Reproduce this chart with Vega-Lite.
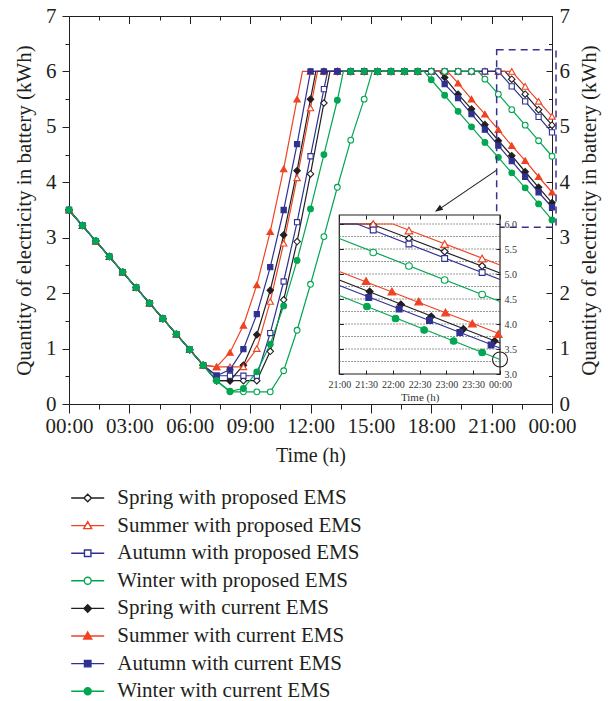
{
"$schema": "https://vega.github.io/schema/vega-lite/v6.json",
"width": 483, "height": 388,
"autosize": "none",
"padding": {"left": 69, "top": 16, "right": 58, "bottom": 297},
"background": "white",
"config": {
  "view": {"stroke": null},
  "axis": {"labelFont": "Liberation Serif", "titleFont": "Liberation Serif", "labelColor": "#231f20", "titleColor": "#231f20", "tickColor": "#231f20", "domainColor": "#231f20", "domainWidth": 1, "tickWidth": 1, "grid": false, "labelFlush": false, "labelOverlap": false, "titleFontWeight": "normal"}
},
"datasets": {
"main": [
{"s":"Spring with proposed EMS","m":0,"v":3.5},{"s":"Spring with proposed EMS","m":40,"v":3.22},{"s":"Spring with proposed EMS","m":80,"v":2.94},{"s":"Spring with proposed EMS","m":120,"v":2.66},{"s":"Spring with proposed EMS","m":160,"v":2.38},{"s":"Spring with proposed EMS","m":200,"v":2.1},{"s":"Spring with proposed EMS","m":240,"v":1.82},{"s":"Spring with proposed EMS","m":280,"v":1.54},{"s":"Spring with proposed EMS","m":320,"v":1.26},{"s":"Spring with proposed EMS","m":360,"v":0.98},{"s":"Spring with proposed EMS","m":400,"v":0.7},
{"s":"Spring with proposed EMS","m":440,"v":0.42},{"s":"Spring with proposed EMS","m":480,"v":0.42},{"s":"Spring with proposed EMS","m":520,"v":0.42},{"s":"Spring with proposed EMS","m":560,"v":0.42},{"s":"Spring with proposed EMS","m":600,"v":0.95},{"s":"Spring with proposed EMS","m":640,"v":1.88},{"s":"Spring with proposed EMS","m":680,"v":2.93},{"s":"Spring with proposed EMS","m":720,"v":4.15},{"s":"Spring with proposed EMS","m":760,"v":5.43},{"s":"Spring with proposed EMS","m":778,"v":6},
{"s":"Spring with proposed EMS","m":800,"v":6},{"s":"Spring with proposed EMS","m":840,"v":6},{"s":"Spring with proposed EMS","m":880,"v":6},{"s":"Spring with proposed EMS","m":920,"v":6},{"s":"Spring with proposed EMS","m":960,"v":6},{"s":"Spring with proposed EMS","m":1000,"v":6},{"s":"Spring with proposed EMS","m":1040,"v":6},{"s":"Spring with proposed EMS","m":1080,"v":6},{"s":"Spring with proposed EMS","m":1120,"v":6},{"s":"Spring with proposed EMS","m":1160,"v":6},{"s":"Spring with proposed EMS","m":1200,"v":6},{"s":"Spring with proposed EMS","m":1240,"v":6},{"s":"Spring with proposed EMS","m":1280,"v":6},{"s":"Spring with proposed EMS","m":1300,"v":6},
{"s":"Spring with proposed EMS","m":1320,"v":5.86},{"s":"Spring with proposed EMS","m":1360,"v":5.59},{"s":"Spring with proposed EMS","m":1400,"v":5.31},{"s":"Spring with proposed EMS","m":1440,"v":5.03},

{"s":"Summer with proposed EMS","m":0,"v":3.5},{"s":"Summer with proposed EMS","m":40,"v":3.22},{"s":"Summer with proposed EMS","m":80,"v":2.94},{"s":"Summer with proposed EMS","m":120,"v":2.66},{"s":"Summer with proposed EMS","m":160,"v":2.38},{"s":"Summer with proposed EMS","m":200,"v":2.1},{"s":"Summer with proposed EMS","m":240,"v":1.82},{"s":"Summer with proposed EMS","m":280,"v":1.54},{"s":"Summer with proposed EMS","m":320,"v":1.26},{"s":"Summer with proposed EMS","m":360,"v":0.98},{"s":"Summer with proposed EMS","m":400,"v":0.7},
{"s":"Summer with proposed EMS","m":440,"v":0.67},{"s":"Summer with proposed EMS","m":480,"v":0.67},{"s":"Summer with proposed EMS","m":520,"v":0.67},{"s":"Summer with proposed EMS","m":560,"v":1.0},{"s":"Summer with proposed EMS","m":600,"v":1.85},{"s":"Summer with proposed EMS","m":640,"v":2.9},{"s":"Summer with proposed EMS","m":680,"v":4.08},{"s":"Summer with proposed EMS","m":720,"v":5.34},{"s":"Summer with proposed EMS","m":741,"v":6},
{"s":"Summer with proposed EMS","m":760,"v":6},{"s":"Summer with proposed EMS","m":800,"v":6},{"s":"Summer with proposed EMS","m":840,"v":6},{"s":"Summer with proposed EMS","m":880,"v":6},{"s":"Summer with proposed EMS","m":920,"v":6},{"s":"Summer with proposed EMS","m":960,"v":6},{"s":"Summer with proposed EMS","m":1000,"v":6},{"s":"Summer with proposed EMS","m":1040,"v":6},{"s":"Summer with proposed EMS","m":1080,"v":6},{"s":"Summer with proposed EMS","m":1120,"v":6},{"s":"Summer with proposed EMS","m":1160,"v":6},{"s":"Summer with proposed EMS","m":1200,"v":6},{"s":"Summer with proposed EMS","m":1240,"v":6},{"s":"Summer with proposed EMS","m":1280,"v":6},{"s":"Summer with proposed EMS","m":1320,"v":6},
{"s":"Summer with proposed EMS","m":1360,"v":5.73},{"s":"Summer with proposed EMS","m":1400,"v":5.46},{"s":"Summer with proposed EMS","m":1440,"v":5.19},

{"s":"Autumn with proposed EMS","m":0,"v":3.5},{"s":"Autumn with proposed EMS","m":40,"v":3.22},{"s":"Autumn with proposed EMS","m":80,"v":2.94},{"s":"Autumn with proposed EMS","m":120,"v":2.66},{"s":"Autumn with proposed EMS","m":160,"v":2.38},{"s":"Autumn with proposed EMS","m":200,"v":2.1},{"s":"Autumn with proposed EMS","m":240,"v":1.82},{"s":"Autumn with proposed EMS","m":280,"v":1.54},{"s":"Autumn with proposed EMS","m":320,"v":1.26},{"s":"Autumn with proposed EMS","m":360,"v":0.98},{"s":"Autumn with proposed EMS","m":400,"v":0.7},
{"s":"Autumn with proposed EMS","m":440,"v":0.51},{"s":"Autumn with proposed EMS","m":480,"v":0.51},{"s":"Autumn with proposed EMS","m":520,"v":0.51},{"s":"Autumn with proposed EMS","m":560,"v":0.51},{"s":"Autumn with proposed EMS","m":600,"v":1.28},{"s":"Autumn with proposed EMS","m":640,"v":2.21},{"s":"Autumn with proposed EMS","m":680,"v":3.28},{"s":"Autumn with proposed EMS","m":720,"v":4.47},{"s":"Autumn with proposed EMS","m":760,"v":5.68},{"s":"Autumn with proposed EMS","m":771,"v":6},
{"s":"Autumn with proposed EMS","m":800,"v":6},{"s":"Autumn with proposed EMS","m":840,"v":6},{"s":"Autumn with proposed EMS","m":880,"v":6},{"s":"Autumn with proposed EMS","m":920,"v":6},{"s":"Autumn with proposed EMS","m":960,"v":6},{"s":"Autumn with proposed EMS","m":1000,"v":6},{"s":"Autumn with proposed EMS","m":1040,"v":6},{"s":"Autumn with proposed EMS","m":1080,"v":6},{"s":"Autumn with proposed EMS","m":1120,"v":6},{"s":"Autumn with proposed EMS","m":1160,"v":6},{"s":"Autumn with proposed EMS","m":1200,"v":6},{"s":"Autumn with proposed EMS","m":1240,"v":6},{"s":"Autumn with proposed EMS","m":1280,"v":6},
{"s":"Autumn with proposed EMS","m":1320,"v":5.73},{"s":"Autumn with proposed EMS","m":1360,"v":5.46},{"s":"Autumn with proposed EMS","m":1400,"v":5.18},{"s":"Autumn with proposed EMS","m":1440,"v":4.9},

{"s":"Winter with proposed EMS","m":0,"v":3.5},{"s":"Winter with proposed EMS","m":40,"v":3.22},{"s":"Winter with proposed EMS","m":80,"v":2.94},{"s":"Winter with proposed EMS","m":120,"v":2.66},{"s":"Winter with proposed EMS","m":160,"v":2.38},{"s":"Winter with proposed EMS","m":200,"v":2.1},{"s":"Winter with proposed EMS","m":240,"v":1.82},{"s":"Winter with proposed EMS","m":280,"v":1.54},{"s":"Winter with proposed EMS","m":320,"v":1.26},{"s":"Winter with proposed EMS","m":360,"v":0.98},{"s":"Winter with proposed EMS","m":400,"v":0.7},
{"s":"Winter with proposed EMS","m":440,"v":0.42},{"s":"Winter with proposed EMS","m":480,"v":0.22},{"s":"Winter with proposed EMS","m":520,"v":0.22},{"s":"Winter with proposed EMS","m":560,"v":0.22},{"s":"Winter with proposed EMS","m":600,"v":0.22},{"s":"Winter with proposed EMS","m":640,"v":0.6},{"s":"Winter with proposed EMS","m":680,"v":1.33},{"s":"Winter with proposed EMS","m":720,"v":2.16},{"s":"Winter with proposed EMS","m":760,"v":3.02},{"s":"Winter with proposed EMS","m":800,"v":3.91},{"s":"Winter with proposed EMS","m":840,"v":4.76},{"s":"Winter with proposed EMS","m":880,"v":5.5},{"s":"Winter with proposed EMS","m":904,"v":6},
{"s":"Winter with proposed EMS","m":920,"v":6},{"s":"Winter with proposed EMS","m":960,"v":6},{"s":"Winter with proposed EMS","m":1000,"v":6},{"s":"Winter with proposed EMS","m":1040,"v":6},{"s":"Winter with proposed EMS","m":1080,"v":6},{"s":"Winter with proposed EMS","m":1120,"v":6},{"s":"Winter with proposed EMS","m":1160,"v":6},{"s":"Winter with proposed EMS","m":1200,"v":6},{"s":"Winter with proposed EMS","m":1220,"v":6},
{"s":"Winter with proposed EMS","m":1240,"v":5.86},{"s":"Winter with proposed EMS","m":1280,"v":5.59},{"s":"Winter with proposed EMS","m":1320,"v":5.31},{"s":"Winter with proposed EMS","m":1360,"v":5.03},{"s":"Winter with proposed EMS","m":1400,"v":4.75},{"s":"Winter with proposed EMS","m":1440,"v":4.47},

{"s":"Spring with current EMS","m":0,"v":3.5},{"s":"Spring with current EMS","m":40,"v":3.22},{"s":"Spring with current EMS","m":80,"v":2.94},{"s":"Spring with current EMS","m":120,"v":2.66},{"s":"Spring with current EMS","m":160,"v":2.38},{"s":"Spring with current EMS","m":200,"v":2.1},{"s":"Spring with current EMS","m":240,"v":1.82},{"s":"Spring with current EMS","m":280,"v":1.54},{"s":"Spring with current EMS","m":320,"v":1.26},{"s":"Spring with current EMS","m":360,"v":0.98},{"s":"Spring with current EMS","m":400,"v":0.7},
{"s":"Spring with current EMS","m":440,"v":0.42},{"s":"Spring with current EMS","m":480,"v":0.42},{"s":"Spring with current EMS","m":520,"v":0.7},{"s":"Spring with current EMS","m":560,"v":1.25},{"s":"Spring with current EMS","m":600,"v":2.05},{"s":"Spring with current EMS","m":640,"v":3.05},{"s":"Spring with current EMS","m":680,"v":4.21},{"s":"Spring with current EMS","m":720,"v":5.5},{"s":"Spring with current EMS","m":736,"v":6},
{"s":"Spring with current EMS","m":760,"v":6},{"s":"Spring with current EMS","m":800,"v":6},{"s":"Spring with current EMS","m":840,"v":6},{"s":"Spring with current EMS","m":880,"v":6},{"s":"Spring with current EMS","m":920,"v":6},{"s":"Spring with current EMS","m":960,"v":6},{"s":"Spring with current EMS","m":1000,"v":6},{"s":"Spring with current EMS","m":1040,"v":6},{"s":"Spring with current EMS","m":1080,"v":6},{"s":"Spring with current EMS","m":1104,"v":6},
{"s":"Spring with current EMS","m":1120,"v":5.89},{"s":"Spring with current EMS","m":1160,"v":5.59},{"s":"Spring with current EMS","m":1200,"v":5.32},{"s":"Spring with current EMS","m":1240,"v":5.04},{"s":"Spring with current EMS","m":1280,"v":4.75},{"s":"Spring with current EMS","m":1320,"v":4.48},{"s":"Spring with current EMS","m":1360,"v":4.19},{"s":"Spring with current EMS","m":1400,"v":3.91},{"s":"Spring with current EMS","m":1440,"v":3.63},

{"s":"Summer with current EMS","m":0,"v":3.5},{"s":"Summer with current EMS","m":40,"v":3.22},{"s":"Summer with current EMS","m":80,"v":2.94},{"s":"Summer with current EMS","m":120,"v":2.66},{"s":"Summer with current EMS","m":160,"v":2.38},{"s":"Summer with current EMS","m":200,"v":2.1},{"s":"Summer with current EMS","m":240,"v":1.82},{"s":"Summer with current EMS","m":280,"v":1.54},{"s":"Summer with current EMS","m":320,"v":1.26},{"s":"Summer with current EMS","m":360,"v":0.98},{"s":"Summer with current EMS","m":400,"v":0.7},
{"s":"Summer with current EMS","m":440,"v":0.67},{"s":"Summer with current EMS","m":480,"v":0.93},{"s":"Summer with current EMS","m":520,"v":1.42},{"s":"Summer with current EMS","m":560,"v":2.15},{"s":"Summer with current EMS","m":600,"v":3.11},{"s":"Summer with current EMS","m":640,"v":4.24},{"s":"Summer with current EMS","m":680,"v":5.5},{"s":"Summer with current EMS","m":696,"v":6},
{"s":"Summer with current EMS","m":720,"v":6},{"s":"Summer with current EMS","m":760,"v":6},{"s":"Summer with current EMS","m":800,"v":6},{"s":"Summer with current EMS","m":840,"v":6},{"s":"Summer with current EMS","m":880,"v":6},{"s":"Summer with current EMS","m":920,"v":6},{"s":"Summer with current EMS","m":960,"v":6},{"s":"Summer with current EMS","m":1000,"v":6},{"s":"Summer with current EMS","m":1040,"v":6},{"s":"Summer with current EMS","m":1080,"v":6},{"s":"Summer with current EMS","m":1120,"v":6},{"s":"Summer with current EMS","m":1128,"v":6},
{"s":"Summer with current EMS","m":1160,"v":5.79},{"s":"Summer with current EMS","m":1200,"v":5.5},{"s":"Summer with current EMS","m":1240,"v":5.23},{"s":"Summer with current EMS","m":1280,"v":4.95},{"s":"Summer with current EMS","m":1320,"v":4.66},{"s":"Summer with current EMS","m":1360,"v":4.39},{"s":"Summer with current EMS","m":1400,"v":4.1},{"s":"Summer with current EMS","m":1440,"v":3.82},

{"s":"Autumn with current EMS","m":0,"v":3.5},{"s":"Autumn with current EMS","m":40,"v":3.22},{"s":"Autumn with current EMS","m":80,"v":2.94},{"s":"Autumn with current EMS","m":120,"v":2.66},{"s":"Autumn with current EMS","m":160,"v":2.38},{"s":"Autumn with current EMS","m":200,"v":2.1},{"s":"Autumn with current EMS","m":240,"v":1.82},{"s":"Autumn with current EMS","m":280,"v":1.54},{"s":"Autumn with current EMS","m":320,"v":1.26},{"s":"Autumn with current EMS","m":360,"v":0.98},{"s":"Autumn with current EMS","m":400,"v":0.7},
{"s":"Autumn with current EMS","m":440,"v":0.51},{"s":"Autumn with current EMS","m":480,"v":0.62},{"s":"Autumn with current EMS","m":520,"v":0.99},{"s":"Autumn with current EMS","m":560,"v":1.62},{"s":"Autumn with current EMS","m":600,"v":2.47},{"s":"Autumn with current EMS","m":640,"v":3.5},{"s":"Autumn with current EMS","m":680,"v":4.69},{"s":"Autumn with current EMS","m":720,"v":6},
{"s":"Autumn with current EMS","m":760,"v":6},{"s":"Autumn with current EMS","m":800,"v":6},{"s":"Autumn with current EMS","m":840,"v":6},{"s":"Autumn with current EMS","m":880,"v":6},{"s":"Autumn with current EMS","m":920,"v":6},{"s":"Autumn with current EMS","m":960,"v":6},{"s":"Autumn with current EMS","m":1000,"v":6},{"s":"Autumn with current EMS","m":1040,"v":6},{"s":"Autumn with current EMS","m":1080,"v":6},{"s":"Autumn with current EMS","m":1088,"v":6},
{"s":"Autumn with current EMS","m":1120,"v":5.77},{"s":"Autumn with current EMS","m":1160,"v":5.52},{"s":"Autumn with current EMS","m":1200,"v":5.23},{"s":"Autumn with current EMS","m":1240,"v":4.95},{"s":"Autumn with current EMS","m":1280,"v":4.66},{"s":"Autumn with current EMS","m":1320,"v":4.38},{"s":"Autumn with current EMS","m":1360,"v":4.1},{"s":"Autumn with current EMS","m":1400,"v":3.82},{"s":"Autumn with current EMS","m":1440,"v":3.55},

{"s":"Winter with current EMS","m":0,"v":3.5},{"s":"Winter with current EMS","m":40,"v":3.22},{"s":"Winter with current EMS","m":80,"v":2.94},{"s":"Winter with current EMS","m":120,"v":2.66},{"s":"Winter with current EMS","m":160,"v":2.38},{"s":"Winter with current EMS","m":200,"v":2.1},{"s":"Winter with current EMS","m":240,"v":1.82},{"s":"Winter with current EMS","m":280,"v":1.54},{"s":"Winter with current EMS","m":320,"v":1.26},{"s":"Winter with current EMS","m":360,"v":0.98},{"s":"Winter with current EMS","m":400,"v":0.7},
{"s":"Winter with current EMS","m":440,"v":0.42},{"s":"Winter with current EMS","m":480,"v":0.23},{"s":"Winter with current EMS","m":520,"v":0.28},{"s":"Winter with current EMS","m":560,"v":0.58},{"s":"Winter with current EMS","m":600,"v":1.08},{"s":"Winter with current EMS","m":640,"v":1.77},{"s":"Winter with current EMS","m":680,"v":2.59},{"s":"Winter with current EMS","m":720,"v":3.52},{"s":"Winter with current EMS","m":760,"v":4.5},{"s":"Winter with current EMS","m":800,"v":5.48},{"s":"Winter with current EMS","m":818,"v":6},
{"s":"Winter with current EMS","m":840,"v":6},{"s":"Winter with current EMS","m":880,"v":6},{"s":"Winter with current EMS","m":920,"v":6},{"s":"Winter with current EMS","m":960,"v":6},{"s":"Winter with current EMS","m":1000,"v":6},{"s":"Winter with current EMS","m":1040,"v":6},{"s":"Winter with current EMS","m":1058,"v":6},
{"s":"Winter with current EMS","m":1080,"v":5.85},{"s":"Winter with current EMS","m":1120,"v":5.57},{"s":"Winter with current EMS","m":1160,"v":5.28},{"s":"Winter with current EMS","m":1200,"v":5.0},{"s":"Winter with current EMS","m":1240,"v":4.72},{"s":"Winter with current EMS","m":1280,"v":4.45},{"s":"Winter with current EMS","m":1320,"v":4.17},{"s":"Winter with current EMS","m":1360,"v":3.9},{"s":"Winter with current EMS","m":1400,"v":3.61},{"s":"Winter with current EMS","m":1440,"v":3.32}
],
"inset": [
{"s":"Spring with proposed EMS","m":1260,"v":6},{"s":"Spring with proposed EMS","m":1296,"v":6},{"s":"Spring with proposed EMS","m":1440,"v":5.02},
{"s":"Summer with proposed EMS","m":1260,"v":6},{"s":"Summer with proposed EMS","m":1320,"v":6},{"s":"Summer with proposed EMS","m":1440,"v":5.18},
{"s":"Autumn with proposed EMS","m":1260,"v":6},{"s":"Autumn with proposed EMS","m":1280,"v":6},{"s":"Autumn with proposed EMS","m":1440,"v":4.89},
{"s":"Winter with proposed EMS","m":1260,"v":5.71},{"s":"Winter with proposed EMS","m":1440,"v":4.45},
{"s":"Spring with current EMS","m":1260,"v":4.88},{"s":"Spring with current EMS","m":1440,"v":3.62},
{"s":"Summer with current EMS","m":1260,"v":5.05},{"s":"Summer with current EMS","m":1440,"v":3.8},
{"s":"Autumn with current EMS","m":1260,"v":4.77},{"s":"Autumn with current EMS","m":1440,"v":3.52},
{"s":"Winter with current EMS","m":1260,"v":4.57},{"s":"Winter with current EMS","m":1440,"v":3.29}
],
"insetMarks": [
{"s":"Spring with proposed EMS","m":1298,"v":5.98},{"s":"Spring with proposed EMS","m":1338,"v":5.71},{"s":"Spring with proposed EMS","m":1378,"v":5.45},{"s":"Spring with proposed EMS","m":1420,"v":5.16},
{"s":"Summer with proposed EMS","m":1298,"v":6},{"s":"Summer with proposed EMS","m":1338,"v":5.87},{"s":"Summer with proposed EMS","m":1378,"v":5.6},{"s":"Summer with proposed EMS","m":1420,"v":5.31},
{"s":"Autumn with proposed EMS","m":1298,"v":5.88},{"s":"Autumn with proposed EMS","m":1338,"v":5.6},{"s":"Autumn with proposed EMS","m":1378,"v":5.31},{"s":"Autumn with proposed EMS","m":1420,"v":5.03},
{"s":"Winter with proposed EMS","m":1298,"v":5.43},{"s":"Winter with proposed EMS","m":1338,"v":5.16},{"s":"Winter with proposed EMS","m":1378,"v":4.88},{"s":"Winter with proposed EMS","m":1420,"v":4.59},
{"s":"Spring with current EMS","m":1294,"v":4.65},{"s":"Spring with current EMS","m":1329,"v":4.39},{"s":"Spring with current EMS","m":1363,"v":4.15},{"s":"Spring with current EMS","m":1399,"v":3.9},{"s":"Spring with current EMS","m":1434,"v":3.66},
{"s":"Summer with current EMS","m":1290,"v":4.86},{"s":"Summer with current EMS","m":1319,"v":4.65},{"s":"Summer with current EMS","m":1349,"v":4.45},{"s":"Summer with current EMS","m":1379,"v":4.23},{"s":"Summer with current EMS","m":1409,"v":4.01},{"s":"Summer with current EMS","m":1438,"v":3.8},
{"s":"Autumn with current EMS","m":1293,"v":4.53},{"s":"Autumn with current EMS","m":1327,"v":4.3},{"s":"Autumn with current EMS","m":1361,"v":4.07},{"s":"Autumn with current EMS","m":1395,"v":3.83},{"s":"Autumn with current EMS","m":1430,"v":3.58},
{"s":"Winter with current EMS","m":1291,"v":4.35},{"s":"Winter with current EMS","m":1323,"v":4.11},{"s":"Winter with current EMS","m":1355,"v":3.88},{"s":"Winter with current EMS","m":1388,"v":3.66},{"s":"Winter with current EMS","m":1420,"v":3.43}
],
"grid": [{"g":3.25},{"g":3.5},{"g":3.75},{"g":4.0},{"g":4.25},{"g":4.5},{"g":4.75},{"g":5.0},{"g":5.25},{"g":5.5},{"g":5.75},{"g":6.0}]
},
"layer": [
{
 "layer": [
  {
   "data": {"values": []},
   "mark": {"type": "point", "filled": true, "opacity": 1},
   "encoding": {
    "x": {"field": "m", "type": "quantitative", "scale": {"domain": [0, 1440], "nice": false, "zero": false}, "axis": null},
    "y": {"field": "v", "type": "quantitative", "scale": {"domain": [0, 7], "nice": false, "zero": false}, "axis": null},
    "shape": {"field": "s", "type": "nominal", "scale": {"domain": ["Spring with proposed EMS","Summer with proposed EMS","Autumn with proposed EMS","Winter with proposed EMS","Spring with current EMS","Summer with current EMS","Autumn with current EMS","Winter with current EMS"], "range": [
      "M-4.125,0H-0.94M0.94,0H4.125M0,-0.94L0.94,0L0,0.94L-0.94,0Z",
      "M-4.125,0H-0.57M0.57,0H4.125M0,-1L1,0.75L-1,0.75Z",
      "M-4.125,0H-0.81M0.81,0H4.125M-0.81,-0.81H0.81V0.81H-0.81Z",
      "M-4.125,0H-0.875M0.875,0H4.125M0.875,0A0.875,0.875,0,1,1,-0.875,0A0.875,0.875,0,1,1,0.875,0Z",
      "M-4.125,0H4.125M0,-0.94L0.94,0L0,0.94L-0.94,0Z",
      "M-4.125,0H4.125M0,-1L1,0.75L-1,0.75Z",
      "M-4.125,0H4.125M-0.81,-0.81H0.81V0.81H-0.81Z",
      "M-4.125,0H4.125M0.875,0A0.875,0.875,0,1,1,-0.875,0A0.875,0.875,0,1,1,0.875,0Z"]},
      "legend": {"orient": "none", "legendX": 8.2, "legendY": 471.5, "direction": "vertical", "title": null, "padding": 0, "symbolSize": 64, "symbolStrokeWidth": 1.4, "labelOffset": 19.1, "labelFont": "Liberation Serif", "labelFontSize": 21, "labelColor": "#231f20", "labelLimit": 0, "rowPadding": 5.6}},
    "fill": {"field": "s", "type": "nominal", "scale": {"domain": ["Spring with proposed EMS","Summer with proposed EMS","Autumn with proposed EMS","Winter with proposed EMS","Spring with current EMS","Summer with current EMS","Autumn with current EMS","Winter with current EMS"], "range": ["#ffffff","#ffffff","#ffffff","#ffffff","#231f20","#ee4323","#2e3192","#00a651"]},
      "legend": {"orient": "none", "legendX": 8.2, "legendY": 471.5, "direction": "vertical", "title": null, "padding": 0, "symbolSize": 64, "symbolStrokeWidth": 1.4, "labelOffset": 19.1, "labelFont": "Liberation Serif", "labelFontSize": 21, "labelColor": "#231f20", "labelLimit": 0, "rowPadding": 5.6}},
    "stroke": {"field": "s", "type": "nominal", "scale": {"domain": ["Spring with proposed EMS","Summer with proposed EMS","Autumn with proposed EMS","Winter with proposed EMS","Spring with current EMS","Summer with current EMS","Autumn with current EMS","Winter with current EMS"], "range": ["#231f20","#ee4323","#2e3192","#00a651","#231f20","#ee4323","#2e3192","#00a651"]},
      "legend": {"orient": "none", "legendX": 8.2, "legendY": 471.5, "direction": "vertical", "title": null, "padding": 0, "symbolSize": 64, "symbolStrokeWidth": 1.4, "labelOffset": 19.1, "labelFont": "Liberation Serif", "labelFontSize": 21, "labelColor": "#231f20", "labelLimit": 0, "rowPadding": 5.6}}
   }
  },
  {
   "data": {"name": "main"},
   "mark": {"type": "line", "strokeWidth": 1.2},
   "encoding": {
    "x": {"field": "m", "type": "quantitative", "scale": {"domain": [0, 1440], "nice": false, "zero": false},
          "axis": {"orient": "bottom", "values": [0,180,360,540,720,900,1080,1260,1440], "labelExpr": "(floor(datum.value/60)%24<10?'0':'')+(floor(datum.value/60)%24)+':00'", "tickSize": 9, "labelPadding": 2, "labelFontSize": 21, "title": "Time (h)", "titleFontSize": 20, "titlePadding": 9, "domain": true}},
    "y": {"field": "v", "type": "quantitative", "scale": {"domain": [0, 7], "nice": false, "zero": false},
          "axis": {"orient": "left", "values": [0,1,2,3,4,5,6,7], "tickSize": 7, "labelPadding": 6, "labelFontSize": 21, "title": "Quantity of electricity in battery (kWh)", "titleFontSize": 21, "titlePadding": 11, "domain": true}},
    "stroke": {"field": "s", "type": "nominal", "scale": {"domain": ["Spring with proposed EMS","Summer with proposed EMS","Autumn with proposed EMS","Winter with proposed EMS","Spring with current EMS","Summer with current EMS","Autumn with current EMS","Winter with current EMS"], "range": ["#231f20","#ee4323","#2e3192","#00a651","#231f20","#ee4323","#2e3192","#00a651"]}, "legend": null}
   }
  },
  {
   "data": {"name": "main"},
   "transform": [{"filter": "datum.m % 40 == 0"}, {"filter": {"field": "s", "oneOf": ["Spring with proposed EMS","Spring with current EMS"]}}],
   "mark": {"type": "point", "shape": "diamond", "filled": true, "size": 42, "strokeWidth": 1.1, "opacity": 1},
   "encoding": {
    "x": {"field": "m", "type": "quantitative", "scale": {"domain": [0, 1440], "nice": false, "zero": false}, "axis": null},
    "y": {"field": "v", "type": "quantitative", "scale": {"domain": [0, 7], "nice": false, "zero": false}, "axis": null},
    "fill": {"field": "s", "type": "nominal", "scale": {"domain": ["Spring with proposed EMS","Summer with proposed EMS","Autumn with proposed EMS","Winter with proposed EMS","Spring with current EMS","Summer with current EMS","Autumn with current EMS","Winter with current EMS"], "range": ["#ffffff","#ffffff","#ffffff","#ffffff","#231f20","#ee4323","#2e3192","#00a651"]}, "legend": null},
    "stroke": {"field": "s", "type": "nominal", "scale": {"domain": ["Spring with proposed EMS","Summer with proposed EMS","Autumn with proposed EMS","Winter with proposed EMS","Spring with current EMS","Summer with current EMS","Autumn with current EMS","Winter with current EMS"], "range": ["#231f20","#ee4323","#2e3192","#00a651","#231f20","#ee4323","#2e3192","#00a651"]}, "legend": null}
   }
  },
  {
   "data": {"name": "main"},
   "transform": [{"filter": "datum.m % 40 == 0"}, {"filter": {"field": "s", "oneOf": ["Summer with proposed EMS","Summer with current EMS"]}}],
   "mark": {"type": "point", "shape": "triangle-up", "filled": true, "size": 42, "strokeWidth": 1.1, "opacity": 1},
   "encoding": {
    "x": {"field": "m", "type": "quantitative", "scale": {"domain": [0, 1440], "nice": false, "zero": false}, "axis": null},
    "y": {"field": "v", "type": "quantitative", "scale": {"domain": [0, 7], "nice": false, "zero": false}, "axis": null},
    "fill": {"field": "s", "type": "nominal", "scale": {"domain": ["Spring with proposed EMS","Summer with proposed EMS","Autumn with proposed EMS","Winter with proposed EMS","Spring with current EMS","Summer with current EMS","Autumn with current EMS","Winter with current EMS"], "range": ["#ffffff","#ffffff","#ffffff","#ffffff","#231f20","#ee4323","#2e3192","#00a651"]}, "legend": null},
    "stroke": {"field": "s", "type": "nominal", "scale": {"domain": ["Spring with proposed EMS","Summer with proposed EMS","Autumn with proposed EMS","Winter with proposed EMS","Spring with current EMS","Summer with current EMS","Autumn with current EMS","Winter with current EMS"], "range": ["#231f20","#ee4323","#2e3192","#00a651","#231f20","#ee4323","#2e3192","#00a651"]}, "legend": null}
   }
  },
  {
   "data": {"name": "main"},
   "transform": [{"filter": "datum.m % 40 == 0"}, {"filter": {"field": "s", "oneOf": ["Autumn with proposed EMS","Autumn with current EMS"]}}],
   "mark": {"type": "point", "shape": "square", "filled": true, "size": 27, "strokeWidth": 1.1, "opacity": 1},
   "encoding": {
    "x": {"field": "m", "type": "quantitative", "scale": {"domain": [0, 1440], "nice": false, "zero": false}, "axis": null},
    "y": {"field": "v", "type": "quantitative", "scale": {"domain": [0, 7], "nice": false, "zero": false}, "axis": null},
    "fill": {"field": "s", "type": "nominal", "scale": {"domain": ["Spring with proposed EMS","Summer with proposed EMS","Autumn with proposed EMS","Winter with proposed EMS","Spring with current EMS","Summer with current EMS","Autumn with current EMS","Winter with current EMS"], "range": ["#ffffff","#ffffff","#ffffff","#ffffff","#231f20","#ee4323","#2e3192","#00a651"]}, "legend": null},
    "stroke": {"field": "s", "type": "nominal", "scale": {"domain": ["Spring with proposed EMS","Summer with proposed EMS","Autumn with proposed EMS","Winter with proposed EMS","Spring with current EMS","Summer with current EMS","Autumn with current EMS","Winter with current EMS"], "range": ["#231f20","#ee4323","#2e3192","#00a651","#231f20","#ee4323","#2e3192","#00a651"]}, "legend": null}
   }
  },
  {
   "data": {"name": "main"},
   "transform": [{"filter": "datum.m % 40 == 0"}, {"filter": {"field": "s", "oneOf": ["Winter with proposed EMS","Winter with current EMS"]}}],
   "mark": {"type": "point", "shape": "circle", "filled": true, "size": 33, "strokeWidth": 1.1, "opacity": 1},
   "encoding": {
    "x": {"field": "m", "type": "quantitative", "scale": {"domain": [0, 1440], "nice": false, "zero": false}, "axis": null},
    "y": {"field": "v", "type": "quantitative", "scale": {"domain": [0, 7], "nice": false, "zero": false}, "axis": null},
    "fill": {"field": "s", "type": "nominal", "scale": {"domain": ["Spring with proposed EMS","Summer with proposed EMS","Autumn with proposed EMS","Winter with proposed EMS","Spring with current EMS","Summer with current EMS","Autumn with current EMS","Winter with current EMS"], "range": ["#ffffff","#ffffff","#ffffff","#ffffff","#231f20","#ee4323","#2e3192","#00a651"]}, "legend": null},
    "stroke": {"field": "s", "type": "nominal", "scale": {"domain": ["Spring with proposed EMS","Summer with proposed EMS","Autumn with proposed EMS","Winter with proposed EMS","Spring with current EMS","Summer with current EMS","Autumn with current EMS","Winter with current EMS"], "range": ["#231f20","#ee4323","#2e3192","#00a651","#231f20","#ee4323","#2e3192","#00a651"]}, "legend": null}
   }
  },
  {
   "data": {"values": [{}]},
   "mark": {"type": "rect", "fillOpacity": 0, "stroke": "#3d3190", "strokeWidth": 1.5, "strokeDash": [7, 5]},
   "encoding": {
    "x": {"datum": 1275, "type": "quantitative", "scale": {"domain": [0, 1440], "nice": false, "zero": false}, "axis": null},
    "x2": {"datum": 1452},
    "y": {"datum": 3.19, "type": "quantitative", "scale": {"domain": [0, 7], "nice": false, "zero": false}, "axis": null},
    "y2": {"datum": 6.39}
   }
  },
  {
   "data": {"values": [{}]},
   "mark": {"type": "rule", "stroke": "#231f20", "strokeWidth": 1.1},
   "encoding": {
    "x": {"datum": 1275, "type": "quantitative", "scale": {"domain": [0, 1440], "nice": false, "zero": false}, "axis": null},
    "x2": {"datum": 1105},
    "y": {"datum": 4.22, "type": "quantitative", "scale": {"domain": [0, 7], "nice": false, "zero": false}, "axis": null},
    "y2": {"datum": 3.52}
   }
  },
  {
   "data": {"values": [{}]},
   "mark": {"type": "point", "shape": "M0,0L1.2,3.2L-1.2,3.2Z", "size": 25, "filled": true, "fill": "#231f20", "strokeWidth": 0, "angle": 236, "opacity": 1},
   "encoding": {
    "x": {"datum": 1091, "type": "quantitative", "scale": {"domain": [0, 1440], "nice": false, "zero": false}, "axis": null},
    "y": {"datum": 3.47, "type": "quantitative", "scale": {"domain": [0, 7], "nice": false, "zero": false}, "axis": null}
   }
  },
  {
   "data": {"values": []},
   "mark": "point",
   "encoding": {
    "x": {"field": "m", "type": "quantitative", "scale": {"domain": [0, 1440], "nice": false, "zero": false},
          "axis": {"orient": "bottom", "values": [90,270,450,630,810,990,1170,1350], "tickSize": 5, "labels": false, "domain": false, "title": null}},
    "y": {"field": "v", "type": "quantitative", "scale": {"domain": [0, 7], "nice": false, "zero": false},
          "axis": {"orient": "left", "values": [0.5,1.5,2.5,3.5,4.5,5.5,6.5], "tickSize": 4, "labels": false, "domain": false, "title": null}}
   }
  },
  {
   "data": {"values": []},
   "mark": "point",
   "encoding": {
    "x": {"field": "m", "type": "quantitative", "scale": {"domain": [0, 1440], "nice": false, "zero": false},
          "axis": {"orient": "bottom", "offset": -388, "values": [0,180,360,540,720,900,1080,1260,1440], "tickSize": 7.5, "labels": false, "domain": true, "title": null}},
    "y": {"field": "v", "type": "quantitative", "scale": {"domain": [0, 7], "nice": false, "zero": false},
          "axis": {"orient": "left", "offset": -483, "values": [0,1,2,3,4,5,6,7], "tickSize": 6, "labels": false, "domain": true, "title": null}}
   }
  },
  {
   "data": {"values": []},
   "mark": "point",
   "encoding": {
    "x": {"field": "m", "type": "quantitative", "scale": {"domain": [0, 1440], "nice": false, "zero": false},
          "axis": {"orient": "bottom", "offset": -388, "values": [90,270,450,630,810,990,1170,1350], "tickSize": 4, "labels": false, "domain": false, "title": null}},
    "y": {"field": "v", "type": "quantitative", "scale": {"domain": [0, 7], "nice": false, "zero": false},
          "axis": {"orient": "left", "offset": -483, "values": [0.5,1.5,2.5,3.5,4.5,5.5,6.5], "tickSize": 3.5, "labels": false, "domain": false, "title": null}}
   }
  },
  {
   "data": {"values": []},
   "mark": "point",
   "encoding": {
    "y": {"field": "v", "type": "quantitative", "scale": {"domain": [0, 7], "nice": false, "zero": false},
          "axis": {"orient": "right", "values": [0,1,2,3,4,5,6,7], "ticks": false, "domain": false, "labelPadding": 7, "labelFontSize": 21, "title": "Quantity of electricity in battery (kWh)", "titleFontSize": 21, "titleAngle": 270, "titleBaseline": "top", "titlePadding": 9}}
   }
  }
 ],
 "resolve": {"axis": {"x": "independent", "y": "independent"}}
},
{
 "layer": [
  {
   "data": {"values": [{}]},
   "mark": {"type": "rect", "fill": "#ffffff", "stroke": "#231f20", "strokeWidth": 1.2},
   "encoding": {
    "x": {"datum": 1260, "type": "quantitative", "scale": {"domain": [957.24, 1498.24], "nice": false, "zero": false}, "axis": null},
    "x2": {"datum": 1440},
    "y": {"datum": 3.0, "type": "quantitative", "scale": {"domain": [2.4, 10.16], "nice": false, "zero": false}, "axis": null},
    "y2": {"datum": 6.18}
   }
  },
  {
   "data": {"name": "grid"},
   "mark": {"type": "rule", "stroke": "#555555", "strokeWidth": 0.8, "strokeDash": [1.5, 1.5]},
   "encoding": {
    "x": {"datum": 1260, "type": "quantitative", "scale": {"domain": [957.24, 1498.24], "nice": false, "zero": false}, "axis": null},
    "x2": {"datum": 1440},
    "y": {"field": "g", "type": "quantitative", "scale": {"domain": [2.4, 10.16], "nice": false, "zero": false}, "axis": null}
   }
  },
  {
   "data": {"name": "inset"},
   "mark": {"type": "line", "strokeWidth": 1.2},
   "encoding": {
    "x": {"field": "m", "type": "quantitative", "scale": {"domain": [957.24, 1498.24], "nice": false, "zero": false},
          "axis": {"orient": "bottom", "offset": -30, "values": [1260,1290,1320,1350,1380,1410,1440], "labelExpr": "(floor(datum.value/60)%24<10?'0':'')+(floor(datum.value/60)%24)+':'+(datum.value%60==0?'00':'30')", "ticks": false, "domain": false, "labelPadding": 5, "labelFontSize": 10, "labelColor": "#333333", "title": "Time (h)", "titleFontSize": 11, "titleColor": "#333333", "titleX": 350.65, "titleY": 26, "titleBaseline": "alphabetic", "zindex": 1}},
    "y": {"field": "v", "type": "quantitative", "scale": {"domain": [2.4, 10.16], "nice": false, "zero": false},
          "axis": {"orient": "right", "offset": -52, "values": [3,3.5,4,4.5,5,5.5,6], "format": ".1f", "ticks": false, "domain": false, "labelPadding": 4, "labelFontSize": 10, "labelColor": "#333333", "title": null, "zindex": 1}},
    "stroke": {"field": "s", "type": "nominal", "scale": {"domain": ["Spring with proposed EMS","Summer with proposed EMS","Autumn with proposed EMS","Winter with proposed EMS","Spring with current EMS","Summer with current EMS","Autumn with current EMS","Winter with current EMS"], "range": ["#231f20","#ee4323","#2e3192","#00a651","#231f20","#ee4323","#2e3192","#00a651"]}, "legend": null}
   }
  },
  {
   "data": {"name": "insetMarks"},
   "transform": [{"filter": {"field": "s", "oneOf": ["Spring with proposed EMS","Spring with current EMS"]}}],
   "mark": {"type": "point", "shape": "diamond", "filled": true, "size": 49, "strokeWidth": 1.1, "opacity": 1},
   "encoding": {
    "x": {"field": "m", "type": "quantitative", "scale": {"domain": [957.24, 1498.24], "nice": false, "zero": false}, "axis": null},
    "y": {"field": "v", "type": "quantitative", "scale": {"domain": [2.4, 10.16], "nice": false, "zero": false}, "axis": null},
    "fill": {"field": "s", "type": "nominal", "scale": {"domain": ["Spring with proposed EMS","Summer with proposed EMS","Autumn with proposed EMS","Winter with proposed EMS","Spring with current EMS","Summer with current EMS","Autumn with current EMS","Winter with current EMS"], "range": ["#ffffff","#ffffff","#ffffff","#ffffff","#231f20","#ee4323","#2e3192","#00a651"]}, "legend": null},
    "stroke": {"field": "s", "type": "nominal", "scale": {"domain": ["Spring with proposed EMS","Summer with proposed EMS","Autumn with proposed EMS","Winter with proposed EMS","Spring with current EMS","Summer with current EMS","Autumn with current EMS","Winter with current EMS"], "range": ["#231f20","#ee4323","#2e3192","#00a651","#231f20","#ee4323","#2e3192","#00a651"]}, "legend": null}
   }
  },
  {
   "data": {"name": "insetMarks"},
   "transform": [{"filter": {"field": "s", "oneOf": ["Summer with proposed EMS","Summer with current EMS"]}}],
   "mark": {"type": "point", "shape": "triangle-up", "filled": true, "size": 60, "strokeWidth": 1.1, "opacity": 1},
   "encoding": {
    "x": {"field": "m", "type": "quantitative", "scale": {"domain": [957.24, 1498.24], "nice": false, "zero": false}, "axis": null},
    "y": {"field": "v", "type": "quantitative", "scale": {"domain": [2.4, 10.16], "nice": false, "zero": false}, "axis": null},
    "fill": {"field": "s", "type": "nominal", "scale": {"domain": ["Spring with proposed EMS","Summer with proposed EMS","Autumn with proposed EMS","Winter with proposed EMS","Spring with current EMS","Summer with current EMS","Autumn with current EMS","Winter with current EMS"], "range": ["#ffffff","#ffffff","#ffffff","#ffffff","#231f20","#ee4323","#2e3192","#00a651"]}, "legend": null},
    "stroke": {"field": "s", "type": "nominal", "scale": {"domain": ["Spring with proposed EMS","Summer with proposed EMS","Autumn with proposed EMS","Winter with proposed EMS","Spring with current EMS","Summer with current EMS","Autumn with current EMS","Winter with current EMS"], "range": ["#231f20","#ee4323","#2e3192","#00a651","#231f20","#ee4323","#2e3192","#00a651"]}, "legend": null}
   }
  },
  {
   "data": {"name": "insetMarks"},
   "transform": [{"filter": {"field": "s", "oneOf": ["Autumn with proposed EMS","Autumn with current EMS"]}}],
   "mark": {"type": "point", "shape": "square", "filled": true, "size": 34, "strokeWidth": 1.1, "opacity": 1},
   "encoding": {
    "x": {"field": "m", "type": "quantitative", "scale": {"domain": [957.24, 1498.24], "nice": false, "zero": false}, "axis": null},
    "y": {"field": "v", "type": "quantitative", "scale": {"domain": [2.4, 10.16], "nice": false, "zero": false}, "axis": null},
    "fill": {"field": "s", "type": "nominal", "scale": {"domain": ["Spring with proposed EMS","Summer with proposed EMS","Autumn with proposed EMS","Winter with proposed EMS","Spring with current EMS","Summer with current EMS","Autumn with current EMS","Winter with current EMS"], "range": ["#ffffff","#ffffff","#ffffff","#ffffff","#231f20","#ee4323","#2e3192","#00a651"]}, "legend": null},
    "stroke": {"field": "s", "type": "nominal", "scale": {"domain": ["Spring with proposed EMS","Summer with proposed EMS","Autumn with proposed EMS","Winter with proposed EMS","Spring with current EMS","Summer with current EMS","Autumn with current EMS","Winter with current EMS"], "range": ["#231f20","#ee4323","#2e3192","#00a651","#231f20","#ee4323","#2e3192","#00a651"]}, "legend": null}
   }
  },
  {
   "data": {"name": "insetMarks"},
   "transform": [{"filter": {"field": "s", "oneOf": ["Winter with proposed EMS","Winter with current EMS"]}}],
   "mark": {"type": "point", "shape": "circle", "filled": true, "size": 44, "strokeWidth": 1.1, "opacity": 1},
   "encoding": {
    "x": {"field": "m", "type": "quantitative", "scale": {"domain": [957.24, 1498.24], "nice": false, "zero": false}, "axis": null},
    "y": {"field": "v", "type": "quantitative", "scale": {"domain": [2.4, 10.16], "nice": false, "zero": false}, "axis": null},
    "fill": {"field": "s", "type": "nominal", "scale": {"domain": ["Spring with proposed EMS","Summer with proposed EMS","Autumn with proposed EMS","Winter with proposed EMS","Spring with current EMS","Summer with current EMS","Autumn with current EMS","Winter with current EMS"], "range": ["#ffffff","#ffffff","#ffffff","#ffffff","#231f20","#ee4323","#2e3192","#00a651"]}, "legend": null},
    "stroke": {"field": "s", "type": "nominal", "scale": {"domain": ["Spring with proposed EMS","Summer with proposed EMS","Autumn with proposed EMS","Winter with proposed EMS","Spring with current EMS","Summer with current EMS","Autumn with current EMS","Winter with current EMS"], "range": ["#231f20","#ee4323","#2e3192","#00a651","#231f20","#ee4323","#2e3192","#00a651"]}, "legend": null}
   }
  },
  {
   "data": {"values": [{}]},
   "mark": {"type": "point", "shape": "circle", "size": 225, "filled": false, "stroke": "#231f20", "strokeWidth": 1.1, "opacity": 1},
   "encoding": {
    "x": {"datum": 1440, "type": "quantitative", "scale": {"domain": [957.24, 1498.24], "nice": false, "zero": false}, "axis": null},
    "y": {"datum": 3.29, "type": "quantitative", "scale": {"domain": [2.4, 10.16], "nice": false, "zero": false}, "axis": null}
   }
  },
  {
   "data": {"values": []},
   "mark": "point",
   "encoding": {
    "x": {"field": "m", "type": "quantitative", "scale": {"domain": [957.24, 1498.24], "nice": false, "zero": false},
          "axis": {"orient": "top", "offset": -358, "values": [1260,1290,1320,1350,1380,1410,1440], "tickSize": 4, "labels": false, "domain": false, "title": null, "zindex": 1}},
    "y": {"field": "v", "type": "quantitative", "scale": {"domain": [2.4, 10.16], "nice": false, "zero": false},
          "axis": {"orient": "right", "offset": -212.7, "values": [3,3.5,4,4.5,5,5.5,6], "tickSize": 4, "labels": false, "domain": false, "title": null, "zindex": 1}}
   }
  },
  {
   "data": {"values": []},
   "mark": "point",
   "encoding": {
    "x": {"field": "m", "type": "quantitative", "scale": {"domain": [957.24, 1498.24], "nice": false, "zero": false},
          "axis": {"orient": "bottom", "offset": -189, "values": [1260,1290,1320,1350,1380,1410,1440], "tickSize": 4, "labels": false, "domain": false, "title": null, "zindex": 1}},
    "y": {"field": "v", "type": "quantitative", "scale": {"domain": [2.4, 10.16], "nice": false, "zero": false},
          "axis": {"orient": "left", "offset": -431, "values": [3,3.5,4,4.5,5,5.5,6], "tickSize": 4, "labels": false, "domain": false, "title": null, "zindex": 1}}
   }
  }
 ],
 "resolve": {"axis": {"x": "independent", "y": "independent"}}
}
],
"resolve": {"scale": {"x": "independent", "y": "independent"}, "axis": {"x": "independent", "y": "independent"}}
}
